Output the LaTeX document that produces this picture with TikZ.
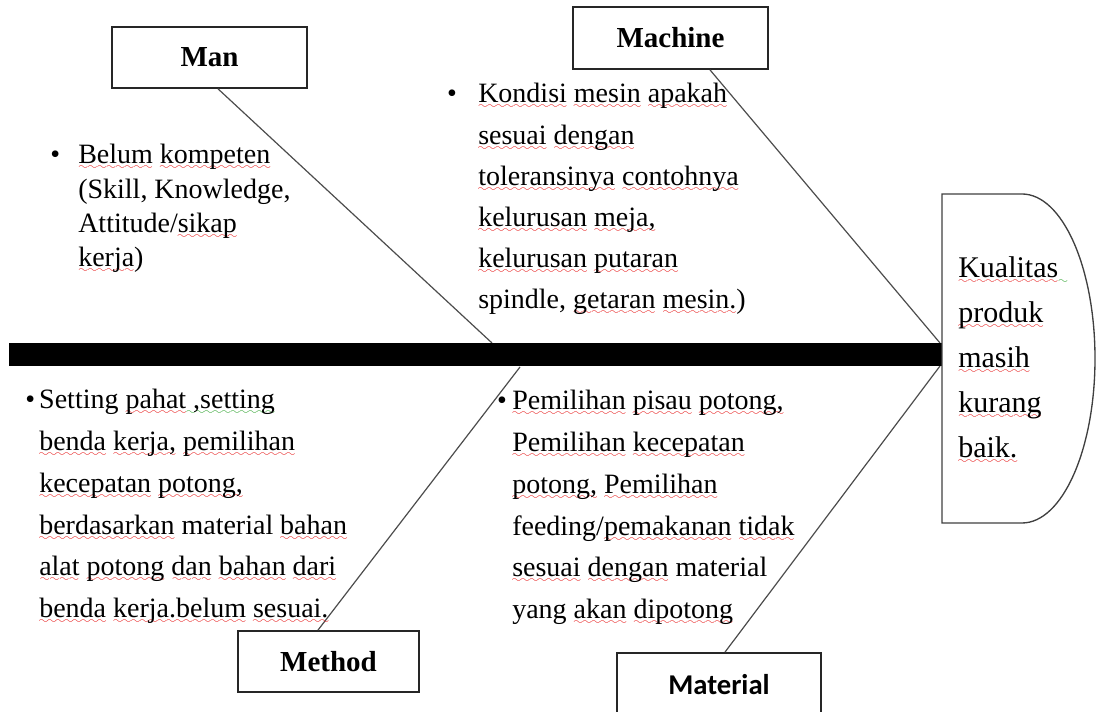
\documentclass[tikz,border=0pt]{standalone}
\usepackage{fontspec}
\setmainfont{Liberation Serif}
\newfontfamily\calibri{Carlito}
\definecolor{spell}{RGB}{230,20,20}
\definecolor{gram}{RGB}{40,160,40}
\font\sqfont=lasy6 at 7.5pt
\newcommand\wavy[2]{\leavevmode\setbox0\hbox{#2}\rlap{\color{#1}\hbox to \wd0{\xleaders\hbox{\lower4.5pt\hbox{\sqfont\char58}}\hfill}}\box0\relax}
\newcommand\sq[1]{\wavy{spell}{#1}}
\newcommand\sqg[1]{\wavy{gram}{#1}}
\newcommand\bul[1]{\leavevmode\llap{\textbullet\hspace{#1}}}
\tikzset{
  catbox/.style={draw=black!85, line width=1.3pt, fill=white, inner sep=0pt,
    font=\bfseries\fontsize{21.75pt}{24pt}\selectfont},
  bone/.style={draw=black!70, line width=0.9pt},
  txt/.style={anchor=base west, inner sep=0pt},
  headshape/.style={draw=black!75, line width=1pt, fill=white}
}
\begin{document}
\begin{tikzpicture}[x=0.75pt,y=-0.75pt]
\useasboundingbox (0,0) rectangle (1096,712);
% joints on the spine
\coordinate (j1) at (492,343);
\coordinate (j2) at (940,343);
\coordinate (j3) at (520,367);
\coordinate (j4) at (940,366);
% category boxes (positions)
\path (209.5,57.5) coordinate (manc) (670.5,38) coordinate (machinec)
      (328.5,661.5) coordinate (methodc) (719,685) coordinate (materialc);
\node[catbox, minimum width=146.25pt, minimum height=45.75pt] (man) at (manc) {Man};
\node[catbox, minimum width=146.25pt, minimum height=46.5pt] (machine) at (machinec) {Machine};
\node[catbox, minimum width=135.75pt, minimum height=45.75pt] (method) at (methodc) {Method};
\node[catbox, minimum width=153pt, minimum height=48pt, font=\calibri\bfseries\fontsize{21.5pt}{24pt}\selectfont] (material) at (materialc) {Material};
% bones
\draw[bone] ([xshift=6.4pt]man.south) -- (j1);
\draw[bone] ([xshift=29.6pt]machine.south) -- (j2);
\draw[bone] ([xshift=-7.9pt]method.north) -- (j3);
\draw[bone] ([xshift=4.5pt]material.north) -- (j4);
% spine
\fill[black] (9,343) rectangle (942,366);
% head
\draw[headshape] (942,194) -- (1022,194) arc[start angle=-90, end angle=90, x radius=73, y radius=164.5] -- (942,523) -- cycle;
\node[txt] (headtxt) at (958,278) {\parbox[t]{120pt}{\raggedright\fontsize{22.5pt}{33.75pt}\selectfont
\sq{Kualitas}\sqg{\hspace*{7pt}}\\
\sq{produk}\\
\sq{masih}\\
\sq{kurang}\\
\sq{baik.}}};
% cause texts
\node[txt] (mantxt) at (78,164) {\parbox[t]{260pt}{\raggedright\fontsize{21pt}{25.7pt}\selectfont
\bul{13.5pt}\sq{Belum} \sq{kompeten}\\
(Skill, Knowledge,\\
Attitude/\sq{sikap}\\
\sq{kerja})}};
\node[txt] (machinetxt) at (478,103) {\parbox[t]{300pt}{\raggedright\fontsize{21pt}{30.9pt}\selectfont
\bul{16pt}\sq{Kondisi} \sq{mesin} \sq{apakah}\\
\sq{sesuai} \sq{dengan}\\
\sq{toleransinya} \sq{contohnya}\\
\sq{kelurusan} \sq{meja,}\\
\sq{kelurusan} \sq{putaran}\\
spindle, \sq{getaran} \sq{mesin.})}};
\node[txt] (methodtxt) at (39,409) {\parbox[t]{300pt}{\raggedright\fontsize{21pt}{31.3pt}\selectfont
\bul{3pt}Setting \sq{pahat}\sqg{ ,setting}\\
\sq{benda} \sq{kerja,} \sq{pemilihan}\\
\sq{kecepatan} \sq{potong,}\\
\sq{berdasarkan} material \sq{bahan}\\
\sq{alat} \sq{potong} \sq{dan} \sq{bahan} \sq{dari}\\
\sq{benda} \sq{kerja.belum} \sq{sesuai.}}};
\node[txt] (materialtxt) at (512,410) {\parbox[t]{300pt}{\raggedright\fontsize{21pt}{31.3pt}\selectfont
\bul{4pt}\sq{Pemilihan} \sq{pisau} \sq{potong,}\\
\sq{Pemilihan} \sq{kecepatan}\\
\sq{potong,} \sq{Pemilihan}\\
feeding/\sq{pemakanan} \sq{tidak}\\
\sq{sesuai} \sq{dengan} material\\
yang \sq{akan} \sq{dipotong}}};
\end{tikzpicture}
\end{document}
